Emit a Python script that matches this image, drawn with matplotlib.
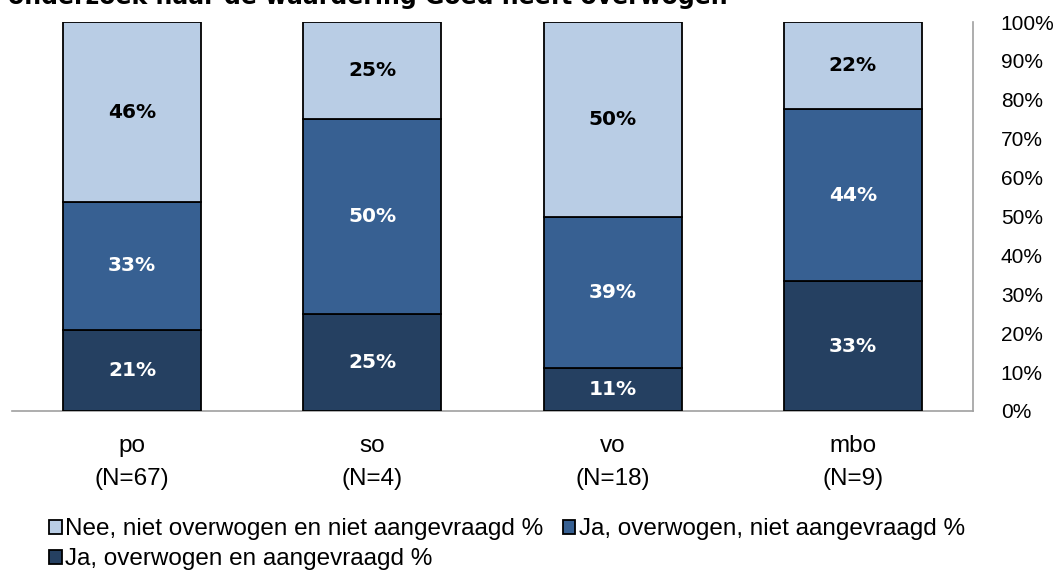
import numpy as np
import matplotlib.pyplot as plt
from matplotlib.ticker import PercentFormatter

# categorieën en aandelen (%)
categories = ['po\n(N=67)', 'so\n(N=4)', 'vo\n(N=18)', 'mbo\n(N=9)']
ja_aangevraagd = [20.9, 25.0, 11.1, 33.3]
ja_niet_aangevraagd = [32.8, 50.0, 38.9, 44.4]
nee = [46.3, 25.0, 50.0, 22.2]

series_names = ['Ja, overwogen en aangevraagd %',
                'Ja, overwogen, niet aangevraagd %',
                'Nee, niet overwogen en niet aangevraagd %']
colors = ['#254061', '#376092', '#B9CDE5']
label_colors = ['white', 'white', 'black']

fig = plt.figure(figsize=(10.63, 5.73), dpi=100)
ax = fig.add_axes([12 / 1063, 1 - 411 / 573, 961 / 1063, 389 / 573])

x = np.arange(len(categories))
bottom = np.zeros(len(categories))
bars = []
for vals, col, lc, name in zip([ja_aangevraagd, ja_niet_aangevraagd, nee],
                               colors, label_colors, series_names):
    b = ax.bar(x, vals, bottom=bottom, width=0.575, color=col,
               edgecolor='black', linewidth=1.3, label=name, zorder=3)
    bars.append(b)
    for xi, v, bt in zip(x, vals, bottom):
        ax.text(xi, bt + v / 2, f'{v:.0f}%', ha='center', va='center',
                color=lc, fontsize=14.5, fontweight='bold',
                family='DejaVu Sans', zorder=4)
    bottom += np.array(vals)

ax.set_xlim(-0.5, len(categories) - 0.5)
ax.set_ylim(0, 100)
ax.set_yticks(np.arange(0, 101, 10))
ax.yaxis.set_major_formatter(PercentFormatter(decimals=0))
ax.yaxis.tick_right()
ax.tick_params(axis='y', length=0, pad=20, labelsize=15)
ax.tick_params(axis='x', length=0, pad=17, labelsize=17.5)
ax.set_xticks(x)
ax.set_xticklabels(categories, linespacing=1.65)
for lab in ax.get_yticklabels() + ax.get_xticklabels():
    lab.set_family('Liberation Sans')

for s in ['top', 'left']:
    ax.spines[s].set_visible(False)
for s in ['right', 'bottom']:
    ax.spines[s].set_color('#A0A0A0')
    ax.spines[s].set_linewidth(1.2)

# legenda: volgorde zo dat rij 1 = Nee, Ja niet; rij 2 = Ja en
handles = [bars[2], bars[0], bars[1]]
labels = [series_names[2], series_names[0], series_names[1]]
leg = fig.legend(handles, labels, ncol=2, loc='upper left',
                 bbox_to_anchor=(30 / 1063, 1 - 499 / 573), frameon=False,
                 handlelength=0.5, handleheight=0.5, handletextpad=0.15,
                 columnspacing=0.8, labelspacing=0.32, borderpad=0.3,
                 prop={'family': 'Liberation Sans', 'size': 17.5})

# afgesneden titel bovenaan
fig.text(8 / 1063, 1 - 4 / 573,
         'onderzoek naar de waardering Goed heeft overwogen',
         ha='left', va='baseline', fontsize=17, fontweight='bold',
         family='DejaVu Sans')

fig.savefig('out.png', dpi=100)
